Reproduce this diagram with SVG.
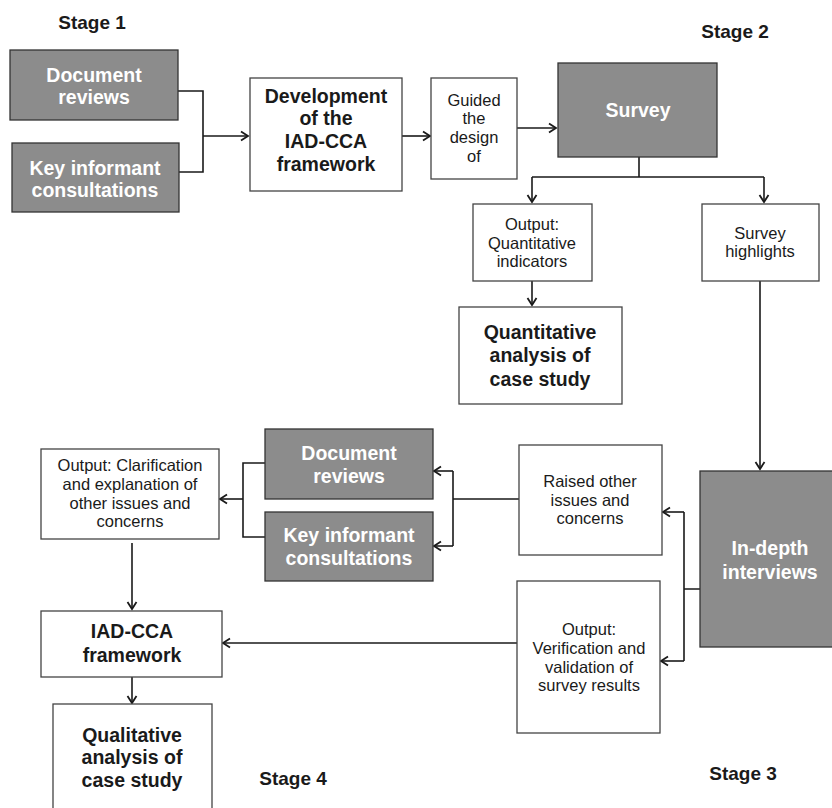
<svg xmlns="http://www.w3.org/2000/svg" width="832" height="808" viewBox="0 0 832 808">
<defs>
<marker id="arr" markerUnits="userSpaceOnUse" markerWidth="12" markerHeight="12" viewBox="-10 -6 12 12" refX="0" refY="0" orient="auto">
<path d="M-7,-4.5 L0,0 L-7,4.5" fill="none" stroke="#1a1a1a" stroke-width="1.8" stroke-linejoin="miter"/>
</marker>
<style>
.g{fill:#8c8c8c;stroke:#333;stroke-width:1.3}
.w{fill:#fff;stroke:#444;stroke-width:1.3}
text{font-family:"Liberation Sans",Arial,sans-serif;text-anchor:middle}
.bw{font-weight:bold;font-size:19.5px;fill:#fff}
.bk{font-weight:bold;font-size:19.5px;fill:#1a1a1a}
.r{font-size:16.5px;fill:#1a1a1a}
.st{font-weight:bold;font-size:19px;fill:#1a1a1a}
.c{fill:none;stroke:#1a1a1a;stroke-width:1.6}
</style>
</defs>
<rect width="832" height="808" fill="#fff"/>
<g id="labels">
<text class="st" x="92" y="29">Stage 1</text>
<text class="st" x="735" y="38">Stage 2</text>
<text class="st" x="743" y="780">Stage 3</text>
<text class="st" x="293" y="785">Stage 4</text>
</g>
<g id="connectors">
<path class="c" d="M178,91 H203 V172 H179"/>
<path class="c" d="M203,136 H248" marker-end="url(#arr)"/>
<path class="c" d="M402,136 H430" marker-end="url(#arr)"/>
<path class="c" d="M517,128 H556" marker-end="url(#arr)"/>
<path class="c" d="M639,157 V177 M532,177 H764"/>
<path class="c" d="M532,177 V202" marker-end="url(#arr)"/>
<path class="c" d="M764,177 V202" marker-end="url(#arr)"/>
<path class="c" d="M532,281 V305" marker-end="url(#arr)"/>
<path class="c" d="M760,281 V469" marker-end="url(#arr)"/>
<path class="c" d="M700,589 H684 M684,512 V661"/>
<path class="c" d="M684,512 H663" marker-end="url(#arr)"/>
<path class="c" d="M684,661 H661" marker-end="url(#arr)"/>
<path class="c" d="M519,499 H453 M453,471 V546"/>
<path class="c" d="M453,471 H434" marker-end="url(#arr)"/>
<path class="c" d="M453,546 H434" marker-end="url(#arr)"/>
<path class="c" d="M265,463 H243 V537 H265"/>
<path class="c" d="M243,499 H220" marker-end="url(#arr)"/>
<path class="c" d="M132,543 V609" marker-end="url(#arr)"/>
<path class="c" d="M517,643 H223" marker-end="url(#arr)"/>
<path class="c" d="M132,677 V703" marker-end="url(#arr)"/>
</g>
<g id="doc1">
<rect class="g" x="10" y="50" width="168" height="70"/>
<text class="bw" x="94" y="82">Document</text>
<text class="bw" x="94" y="104">reviews</text>
</g>
<g id="key1">
<rect class="g" x="12" y="143" width="167" height="69"/>
<text class="bw" x="95" y="175">Key informant</text>
<text class="bw" x="95" y="197">consultations</text>
</g>
<g id="dev">
<rect class="w" x="250" y="78" width="152" height="113"/>
<text class="bk" x="326" y="103">Development</text>
<text class="bk" x="326" y="125">of the</text>
<text class="bk" x="326" y="148">IAD-CCA</text>
<text class="bk" x="326" y="171">framework</text>
</g>
<g id="guided">
<rect class="w" x="431" y="78" width="86" height="101"/>
<text class="r" x="474" y="106">Guided</text>
<text class="r" x="474" y="124">the</text>
<text class="r" x="474" y="143">design</text>
<text class="r" x="474" y="162">of</text>
</g>
<g id="survey">
<rect class="g" x="558" y="63" width="159" height="94"/>
<text class="bw" x="638" y="117">Survey</text>
</g>
<g id="outquant">
<rect class="w" x="473" y="204" width="119" height="77"/>
<text class="r" x="532" y="230">Output:</text>
<text class="r" x="532" y="249">Quantitative</text>
<text class="r" x="532" y="267">indicators</text>
</g>
<g id="highlights">
<rect class="w" x="702" y="204" width="117" height="77"/>
<text class="r" x="760" y="239">Survey</text>
<text class="r" x="760" y="257">highlights</text>
</g>
<g id="quantanalysis">
<rect class="w" x="459" y="307" width="163" height="97"/>
<text class="bk" x="540" y="339">Quantitative</text>
<text class="bk" x="540" y="362">analysis of</text>
<text class="bk" x="540" y="386">case study</text>
</g>
<g id="indepth">
<rect class="g" x="700" y="471" width="140" height="176"/>
<text class="bw" x="770" y="555">In-depth</text>
<text class="bw" x="770" y="579">interviews</text>
</g>
<g id="raised">
<rect class="w" x="519" y="445" width="143" height="110"/>
<text class="r" x="590" y="487">Raised other</text>
<text class="r" x="590" y="506">issues and</text>
<text class="r" x="590" y="524">concerns</text>
</g>
<g id="verification">
<rect class="w" x="517" y="581" width="143" height="152"/>
<text class="r" x="589" y="635">Output:</text>
<text class="r" x="589" y="654">Verification and</text>
<text class="r" x="589" y="673">validation of</text>
<text class="r" x="589" y="691">survey results</text>
</g>
<g id="doc2">
<rect class="g" x="265" y="429" width="168" height="70"/>
<text class="bw" x="349" y="460">Document</text>
<text class="bw" x="349" y="483">reviews</text>
</g>
<g id="key2">
<rect class="g" x="265" y="512" width="168" height="69"/>
<text class="bw" x="349" y="542">Key informant</text>
<text class="bw" x="349" y="565">consultations</text>
</g>
<g id="clarification">
<rect class="w" x="41" y="449" width="178" height="90"/>
<text class="r" x="130" y="471">Output: Clarification</text>
<text class="r" x="130" y="490">and explanation of</text>
<text class="r" x="130" y="509">other issues and</text>
<text class="r" x="130" y="527">concerns</text>
</g>
<g id="iadcca">
<rect class="w" x="41" y="611" width="181" height="66"/>
<text class="bk" x="132" y="638">IAD-CCA</text>
<text class="bk" x="132" y="662">framework</text>
</g>
<g id="qualanalysis">
<rect class="w" x="53" y="704" width="159" height="110"/>
<text class="bk" x="132" y="742">Qualitative</text>
<text class="bk" x="132" y="764">analysis of</text>
<text class="bk" x="132" y="787">case study</text>
</g>
</svg>
